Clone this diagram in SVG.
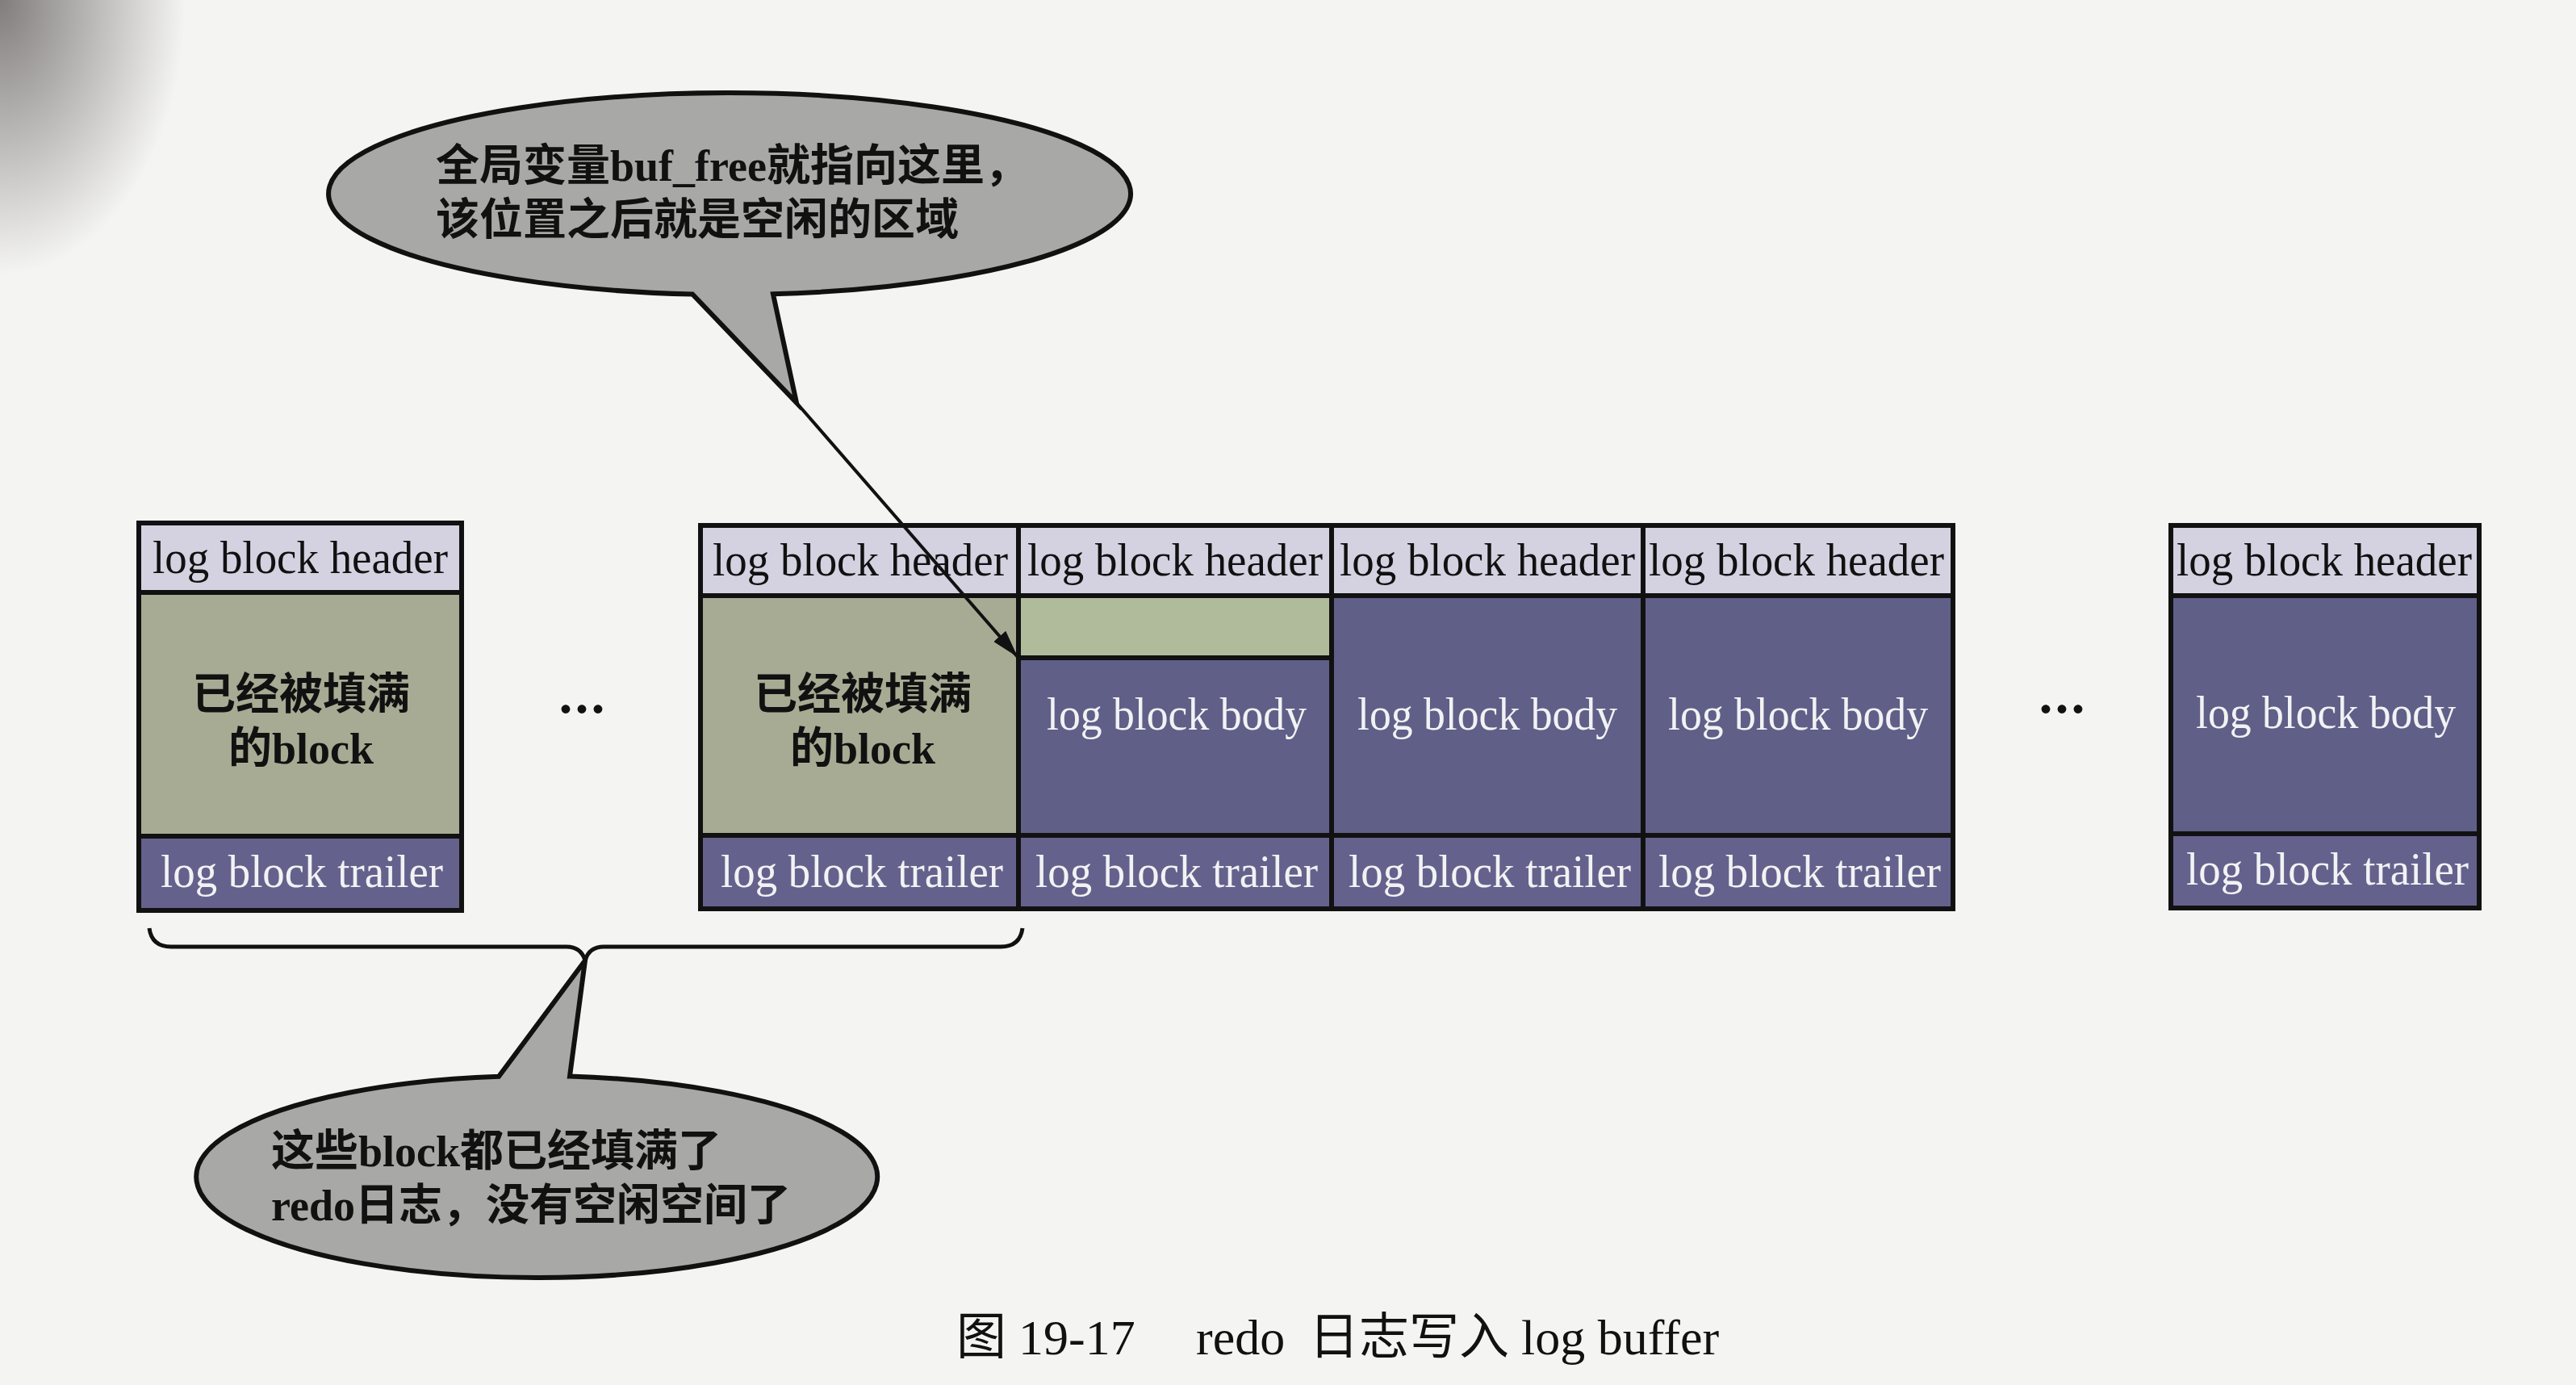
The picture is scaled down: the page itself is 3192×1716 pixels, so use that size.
<svg xmlns="http://www.w3.org/2000/svg" width="3192" height="1716" viewBox="0 0 3192 1716">
<defs>
<style>
.hdr{fill:#d4d2e1;stroke:#111;stroke-width:6}
.full{fill:#a7ab93;stroke:#111;stroke-width:6}
.green{fill:#b0bb9b;stroke:#111;stroke-width:6}
.body{fill:#5f5f88;stroke:#111;stroke-width:6}
.trl{fill:#64628c;stroke:#111;stroke-width:6}
.lt{font-family:"Liberation Serif","Times New Roman",serif;font-size:58px;text-anchor:middle}
.dk{fill:#111}
.wt{fill:#f2f2f4}
.cj{font-family:"Liberation Serif","Noto Sans CJK SC",sans-serif;font-size:54px;font-weight:700;fill:#111}
.cjm{text-anchor:middle}
.bubble{fill:#a8a8a6;stroke:#111;stroke-width:6;stroke-linejoin:miter}
.dots{font-family:"Noto Sans CJK SC",sans-serif;font-size:60px;font-weight:900;fill:#111;text-anchor:middle}
</style>
<radialGradient id="shadow" cx="0" cy="0" r="1" gradientUnits="userSpaceOnUse" gradientTransform="translate(0 0) scale(230 340)">
<stop offset="0" stop-color="#5a5555" stop-opacity="0.75"/>
<stop offset="1" stop-color="#5a5555" stop-opacity="0"/>
</radialGradient>
<marker id="arr" viewBox="0 0 10 10" refX="10" refY="5" markerWidth="34" markerHeight="20" markerUnits="userSpaceOnUse" orient="auto" preserveAspectRatio="none">
<path d="M0 0 L10 5 L0 10 Z" fill="#111"/>
</marker>
</defs>
<rect x="0" y="0" width="3192" height="1716" fill="#f4f4f2"/>
<rect x="0" y="0" width="400" height="500" fill="url(#shadow)"/>

<g id="block1">
<rect class="hdr" x="172" y="648" width="400" height="86"/>
<rect class="full" x="172" y="734" width="400" height="302"/>
<rect class="trl" x="172" y="1036" width="400" height="92"/>
<text class="lt dk" x="372" y="710" textLength="366" lengthAdjust="spacingAndGlyphs">log block header</text>
<text class="cj cjm" x="373" y="879">已经被填满</text>
<text class="cj cjm" x="373" y="946">的block</text>
<text class="lt wt" x="374" y="1099" textLength="350" lengthAdjust="spacingAndGlyphs">log block trailer</text>
</g>

<text id="dots1" class="dots" x="721" y="902">…</text>

<g id="block2">
<rect class="hdr" x="868" y="651" width="394" height="87"/>
<rect class="full" x="868" y="738" width="394" height="297"/>
<rect class="trl" x="868" y="1035" width="394" height="91"/>
<text class="lt dk" x="1066" y="713" textLength="366" lengthAdjust="spacingAndGlyphs">log block header</text>
<text class="cj cjm" x="1069" y="879">已经被填满</text>
<text class="cj cjm" x="1069" y="946">的block</text>
<text class="lt wt" x="1068" y="1099" textLength="350" lengthAdjust="spacingAndGlyphs">log block trailer</text>
</g>

<g id="block3">
<rect class="hdr" x="1262" y="651" width="388" height="87"/>
<rect class="green" x="1262" y="738" width="388" height="77"/>
<rect class="body" x="1262" y="815" width="388" height="220"/>
<rect class="trl" x="1262" y="1035" width="388" height="91"/>
<text class="lt dk" x="1456" y="713" textLength="366" lengthAdjust="spacingAndGlyphs">log block header</text>
<text class="lt wt" x="1458" y="904" textLength="322" lengthAdjust="spacingAndGlyphs">log block body</text>
<text class="lt wt" x="1458" y="1099" textLength="350" lengthAdjust="spacingAndGlyphs">log block trailer</text>
</g>

<g id="block4">
<rect class="hdr" x="1650" y="651" width="386" height="87"/>
<rect class="body" x="1650" y="738" width="386" height="297"/>
<rect class="trl" x="1650" y="1035" width="386" height="91"/>
<text class="lt dk" x="1843" y="713" textLength="366" lengthAdjust="spacingAndGlyphs">log block header</text>
<text class="lt wt" x="1843" y="904" textLength="322" lengthAdjust="spacingAndGlyphs">log block body</text>
<text class="lt wt" x="1846" y="1099" textLength="350" lengthAdjust="spacingAndGlyphs">log block trailer</text>
</g>

<g id="block5">
<rect class="hdr" x="2036" y="651" width="384" height="87"/>
<rect class="body" x="2036" y="738" width="384" height="297"/>
<rect class="trl" x="2036" y="1035" width="384" height="91"/>
<text class="lt dk" x="2226" y="713" textLength="366" lengthAdjust="spacingAndGlyphs">log block header</text>
<text class="lt wt" x="2228" y="904" textLength="322" lengthAdjust="spacingAndGlyphs">log block body</text>
<text class="lt wt" x="2230" y="1099" textLength="350" lengthAdjust="spacingAndGlyphs">log block trailer</text>
</g>

<text id="dots2" class="dots" x="2555" y="902">…</text>

<g id="block6">
<rect class="hdr" x="2690" y="651" width="382" height="87"/>
<rect class="body" x="2690" y="738" width="382" height="295"/>
<rect class="trl" x="2690" y="1033" width="382" height="92"/>
<text class="lt dk" x="2880" y="713" textLength="366" lengthAdjust="spacingAndGlyphs">log block header</text>
<text class="lt wt" x="2882" y="902" textLength="322" lengthAdjust="spacingAndGlyphs">log block body</text>
<text class="lt wt" x="2884" y="1096" textLength="350" lengthAdjust="spacingAndGlyphs">log block trailer</text>
</g>

<g id="callout-top">
<path class="bubble" d="M 858 364.5 A 497 125 0 1 1 958 364.3 L 987 499 Z"/>
<text class="cj" x="540" y="224">全局变量buf_free就指向这里，</text>
<text class="cj" x="540" y="291">该位置之后就是空闲的区域</text>
</g>

<g id="brace">
<path d="M 185 1150 Q 188 1173 212 1173 L 702 1173 Q 720 1173 725 1190 Q 730 1173 748 1173 L 1240 1173 Q 1264 1173 1267 1150" fill="none" stroke="#111" stroke-width="5"/>
</g>

<g id="callout-bottom">
<path class="bubble" d="M 706 1333.6 A 422 125 0 1 1 618 1333.8 L 725 1190 Z"/>
<text class="cj" x="336" y="1445">这些block都已经填满了</text>
<text class="cj" x="336" y="1512">redo日志，没有空闲空间了</text>
</g>

<g id="connectors">
<line x1="987" y1="499" x2="1261" y2="814" stroke="#111" stroke-width="4" marker-end="url(#arr)"/>
</g>

<text id="caption" font-family="Liberation Serif,Noto Sans CJK SC,serif" font-size="62" fill="#111" y="1678"><tspan x="1185">图</tspan><tspan x="1262">19-17</tspan><tspan x="1482">redo</tspan><tspan x="1622">日志写入</tspan><tspan x="1885">log buffer</tspan></text>
</svg>
